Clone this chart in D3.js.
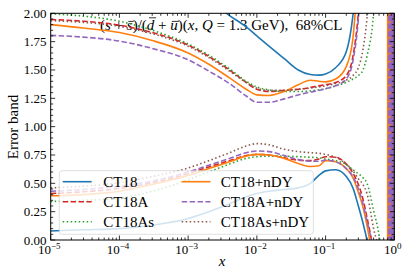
<!DOCTYPE html>
<html><head><meta charset="utf-8">
<script src="https://cdn.jsdelivr.net/npm/d3@7"></script>
<style>body{margin:0;background:#fff} svg{display:block} text{font-family:"Liberation Serif","Times New Roman",serif;fill:#000}</style>
</head><body><svg id="c" width="407" height="271"></svg>
<script>
// ---------------- data ----------------
const xGrid = [1e-5,3e-5,1e-4,3e-4,1e-3,2e-3,4e-3,7e-3,1e-2,1.5e-2,2.5e-2,4e-2,6e-2,8e-2,0.1,0.14,0.2,0.25,0.3,0.35,0.4,0.5,0.6,0.7];
const seriesNames = ["CT18","CT18A","CT18As","CT18+nDY","CT18A+nDY","CT18As+nDY"];
const ct18Up    = [3.0,2.8,2.6,2.4,2.25,2.12,1.98,1.88,1.80,1.71,1.60,1.50,1.46,1.455,1.465,1.52,1.66,1.98,2.5,3.0,3.4,4,4.5,5];
const ct18Lo    = [0.08,0.09,0.10,0.13,0.19,0.25,0.32,0.38,0.41,0.43,0.445,0.46,0.50,0.57,0.61,0.62,0.56,0.46,0.30,0.15,0.0,-0.4,-0.8,-1.2];
const ct18aUp   = [1.945,1.93,1.895,1.83,1.72,1.62,1.50,1.39,1.33,1.31,1.32,1.33,1.345,1.36,1.37,1.39,1.45,1.62,2.0,2.6,3.2,4,4.5,5];
const ct18aLo   = [0.41,0.425,0.455,0.505,0.585,0.645,0.70,0.745,0.755,0.75,0.725,0.705,0.70,0.715,0.735,0.73,0.67,0.59,0.49,0.36,0.2,-0.1,-0.4,-0.7];
const ct18asUp  = [1.995,1.975,1.93,1.85,1.73,1.63,1.51,1.40,1.35,1.325,1.31,1.31,1.315,1.325,1.335,1.36,1.39,1.42,1.45,1.5,1.62,2.0,2.8,3.5];
const ct18asLo  = [0.34,0.35,0.37,0.43,0.53,0.60,0.67,0.72,0.735,0.74,0.74,0.735,0.73,0.725,0.715,0.70,0.665,0.62,0.585,0.55,0.5,0.26,0.04,-0.3];
const ndyUp     = [1.90,1.87,1.83,1.76,1.65,1.55,1.43,1.33,1.28,1.275,1.31,1.37,1.41,1.40,1.395,1.42,1.53,1.78,2.4,3,3.5,4,4.5,5];
const ndyLo     = [0.39,0.40,0.43,0.49,0.57,0.63,0.69,0.74,0.755,0.75,0.72,0.675,0.648,0.655,0.70,0.69,0.63,0.55,0.42,0.29,0.13,-0.2,-0.5,-0.8];
const andyUp    = [1.805,1.79,1.755,1.69,1.59,1.49,1.38,1.27,1.215,1.215,1.245,1.28,1.305,1.32,1.335,1.36,1.42,1.58,1.95,2.6,3.2,4,4.5,5];
const andyLo    = [0.43,0.445,0.475,0.52,0.60,0.66,0.72,0.77,0.785,0.78,0.745,0.71,0.695,0.695,0.705,0.69,0.63,0.56,0.45,0.32,0.17,-0.1,-0.4,-0.7];
const asndyUp   = [1.935,1.92,1.885,1.82,1.71,1.61,1.49,1.39,1.34,1.32,1.32,1.33,1.34,1.35,1.36,1.38,1.41,1.45,1.52,1.68,1.95,2.8,3.5,4];
const asndyLo   = [0.46,0.475,0.505,0.56,0.635,0.70,0.77,0.83,0.85,0.84,0.80,0.78,0.77,0.765,0.755,0.73,0.67,0.61,0.54,0.49,0.41,0.10,-0.1,-0.4];
const upper = [ct18Up, ct18aUp, ct18asUp, ndyUp, andyUp, asndyUp];
const lower = [ct18Lo, ct18aLo, ct18asLo, ndyLo, andyLo, asndyLo];
// x values where the ratio diverges (denominator crosses zero near x=1)
const poleX = [0.80,0.83,0.845,0.86,0.875,0.89,0.905,0.92,0.935,0.95,0.965,0.98,0.995];
const poleFirst = [1,1,1,0,1,1];
const poleOrder = [0,1,2,5,3,4];
const xTicks = [1e-5,1e-4,1e-3,1e-2,1e-1,1];
const xTickExp = ["\u22125","\u22124","\u22123","\u22122","\u22121","0"];
const yTicks = [0,0.25,0.5,0.75,1.0,1.25,1.5,1.75,2.0];

// ---------------- styles ----------------
const colors = ["#1f77b4","#d62728","#2ca02c","#ff7f0e","#9467bd","#8c564b"];
const dashes = [null,"5.5,2.4","1.5,2.5",null,"5.5,2.4","1.5,2.5"];
const LW = 1.6;

const svg = d3.select('#c');
const L=50.7, R=394.3, T=13.3, B=240;
const x = d3.scaleLog().domain([1e-5,1]).range([L,R]);
const y = d3.scaleLinear().domain([0,2]).range([B,T]);

svg.append('clipPath').attr('id','clip').append('rect')
  .attr('x',L).attr('y',T).attr('width',R-L).attr('height',B-T);

// title (drawn under the curves)
const segs = [
  {t:"(",i:0},{t:"s",i:1},{t:" + ",i:0},{t:"s",i:1,bar:1},{t:")/(",i:0},
  {t:"d",i:1,bar:2},{t:" + ",i:0},{t:"u",i:1,bar:1},{t:")(",i:0},{t:"x",i:1},
  {t:", ",i:0},{t:"Q",i:1},{t:" = 1.3 GeV),\u00a0\u00a068%CL",i:0}];
const title = svg.append('text').attr('x',100).attr('y',30).attr('font-size',15);
let idx=0; const bars=[];
segs.forEach(s=>{
  title.append('tspan').text(s.t).attr('font-style',s.i?'italic':'normal');
  if(s.bar) bars.push({k:idx,type:s.bar});
  idx += s.t.length;
});
bars.forEach(b=>{
  const e = title.node().getExtentOfChar(b.k);
  const yy = b.type===2 ? 30-10.6-1.6 : 30-7.0-1.6;
  const sh = b.type===2 ? 1.6 : 0.9;
  svg.append('line').attr('x1',e.x+sh+0.6).attr('x2',e.x+e.width+sh+0.2)
    .attr('y1',yy).attr('y2',yy).attr('stroke','#000').attr('stroke-width',0.8);
});

// curves
const plot = svg.append('g').attr('clip-path','url(#clip)');
const line = d3.line().x(d=>x(d[0])).y(d=>y(d[1])).curve(d3.curveMonotoneX);
const lineLin = d3.line().x(d=>x(d[0])).y(d=>y(d[1]));
seriesNames.forEach((n,si)=>{
  [upper[si], lower[si]].forEach(arr=>{
    plot.append('path').datum(xGrid.map((xv,j)=>[xv,arr[j]]))
      .attr('d',line).attr('fill','none').attr('stroke',colors[si])
      .attr('stroke-width',LW).attr('stroke-dasharray',dashes[si]);
  });
});
poleOrder.forEach(si=>{
  const pts=[];
  poleX.slice(poleFirst[si]).forEach((p,j)=>{
    if(j%2===0){pts.push([p,-1]);pts.push([p,3]);} else {pts.push([p,3]);pts.push([p,-1]);}
  });
  plot.append('path').datum(pts).attr('d',lineLin).attr('fill','none')
    .attr('stroke',colors[si]).attr('stroke-width',LW).attr('stroke-dasharray',dashes[si]);
});

// frame & ticks
const ax = svg.append('g').attr('stroke','#000').attr('stroke-width',0.8);
const maj=4.5, mnr=2.5;
const xMinor=[];
for(let e=-5;e<0;e++) for(let k=2;k<10;k++) xMinor.push(k*Math.pow(10,e));
const yMinor=d3.range(0,2.0001,0.05).filter(v=>Math.abs(v*4-Math.round(v*4))>1e-6);
function xt(v,len){ax.append('line').attr('x1',x(v)).attr('x2',x(v)).attr('y1',B).attr('y2',B-len);
  ax.append('line').attr('x1',x(v)).attr('x2',x(v)).attr('y1',T).attr('y2',T+len);}
function yt(v,len){ax.append('line').attr('y1',y(v)).attr('y2',y(v)).attr('x1',L).attr('x2',L+len);
  ax.append('line').attr('y1',y(v)).attr('y2',y(v)).attr('x1',R).attr('x2',R-len);}
xTicks.forEach(v=>xt(v,maj)); xMinor.forEach(v=>xt(v,mnr));
yTicks.forEach(v=>yt(v,maj)); yMinor.forEach(v=>yt(v,mnr));
svg.append('rect').attr('x',L).attr('y',T).attr('width',R-L).attr('height',B-T)
  .attr('fill','none').attr('stroke','#000').attr('stroke-width',1);

// tick labels
xTicks.forEach((v,i)=>{
  const t=svg.append('text').attr('x',x(v)-1.5).attr('y',253.5).attr('text-anchor','middle').attr('font-size',13);
  t.append('tspan').text('10');
  t.append('tspan').text(xTickExp[i]).attr('font-size',9).attr('dy',-5);
});
const fmt=d3.format('.2f');
yTicks.forEach(v=>{
  svg.append('text').attr('x',46.5).attr('y',y(v)+4.5).attr('text-anchor','end')
    .attr('font-size',13).text(fmt(v));
});
svg.append('text').attr('transform','translate(17.5,127) rotate(-90)').attr('text-anchor','middle')
  .attr('font-size',15).text('Error band');
svg.append('text').attr('x',222).attr('y',266).attr('text-anchor','middle')
  .attr('font-size',15).attr('font-style','italic').text('x');

// legend
const lg = svg.append('g');
lg.append('rect').attr('x',59.3).attr('y',170.7).attr('width',254).attr('height',63.6).attr('rx',3)
  .attr('fill','#fff').attr('fill-opacity',0.8).attr('stroke','#cccccc').attr('stroke-opacity',0.8).attr('stroke-width',0.8);
const colX=[[62.7,91.7,103.3],[181.7,210.5,220.7]];
const rowY=[181.7,201.7,221.7];
seriesNames.forEach((n,si)=>{
  const c=colX[Math.floor(si/3)], ry=rowY[si%3];
  lg.append('line').attr('x1',c[0]).attr('x2',c[1]).attr('y1',ry).attr('y2',ry)
    .attr('stroke',colors[si]).attr('stroke-width',LW).attr('stroke-dasharray',dashes[si]);
  lg.append('text').attr('x',c[2]).attr('y',ry+5).attr('font-size',15).text(n);
});
</script></body></html>
